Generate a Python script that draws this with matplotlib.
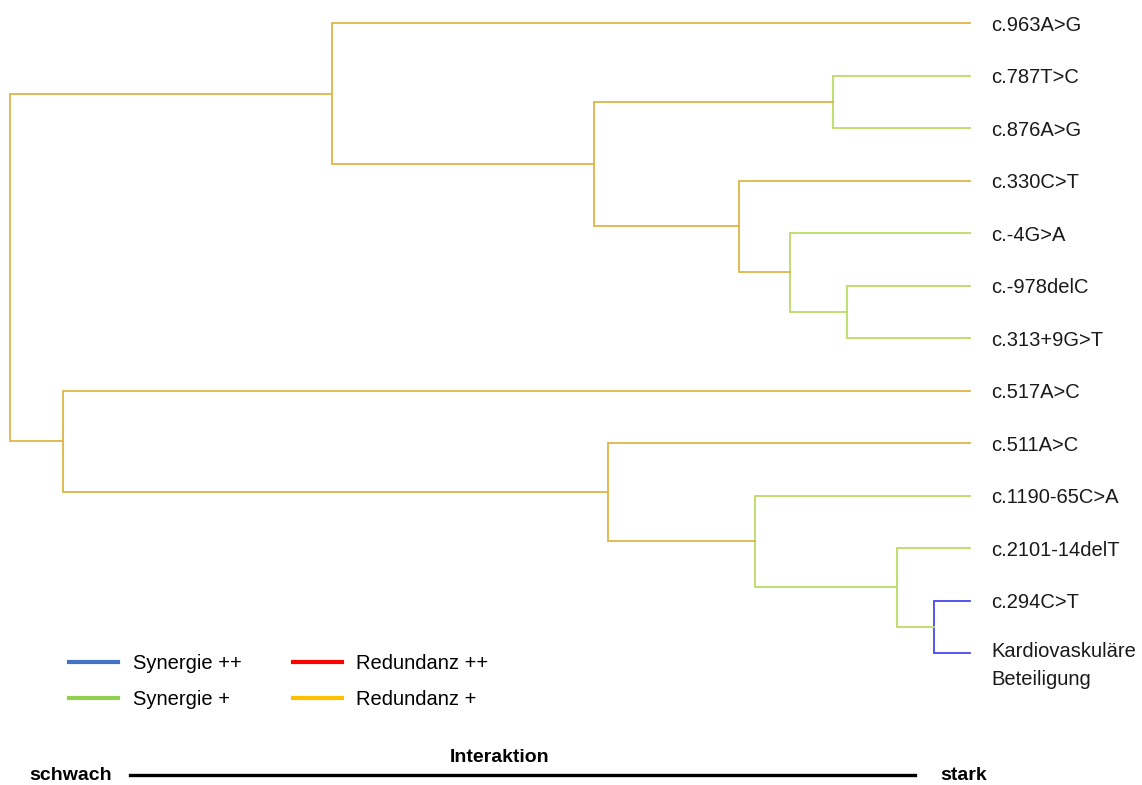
import matplotlib
matplotlib.use("Agg")
import matplotlib.pyplot as plt
from matplotlib.lines import Line2D

plt.rcParams['font.family'] = ['Liberation Sans', 'DejaVu Sans']

# leaves, top to bottom
leaves = ['c.963A>G', 'c.787T>C', 'c.876A>G', 'c.330C>T', 'c.-4G>A',
          'c.-978delC', 'c.313+9G>T', 'c.517A>C', 'c.511A>C',
          'c.1190-65C>A', 'c.2101-14delT', 'c.294C>T',
          'Kardiovaskuläre\nBeteiligung']

# merges: (child a, child b, height, type); new nodes numbered from len(leaves)
merge_a = [1, 5, 4, 3, 13, 0, 11, 10, 9, 8, 7, 18]
merge_b = [2, 6, 14, 15, 16, 17, 12, 19, 20, 21, 22, 23]
merge_h = [1.37, 1.23, 1.80, 2.31, 3.76, 6.38, 0.36, 0.73, 2.15, 3.62, 9.07, 9.60]
merge_t = ['syn', 'syn', 'syn', 'red', 'red', 'red', 'syn2', 'syn', 'syn', 'red', 'red', 'red']

tree_colors = {'syn2': '#4646F0', 'syn': '#BADB62', 'red2': '#FF0000', 'red': '#DFB547'}

legend_labels = ['Synergie ++', 'Synergie +', 'Redundanz ++', 'Redundanz +']
legend_colors = ['#4472C4', '#92D050', '#FF0000', '#FFC000']

fig = plt.figure(figsize=(11.42, 7.85), dpi=100)
ax = fig.add_axes([0, 0, 1, 1])

node_y = [23 + 52.5 * i for i in range(len(leaves))]
node_h = [0.0] * len(leaves)

for a, b, h, t in zip(merge_a, merge_b, merge_h, merge_t):
    ya, yb = node_y[a], node_y[b]
    ax.plot([node_h[a], h, h, node_h[b]], [ya, ya, yb, yb],
            color=tree_colors[t], lw=1.3, solid_joinstyle='miter')
    node_y.append((ya + yb) / 2)
    node_h.append(h)

for i, name in enumerate(leaves):
    if '\n' in name:
        ax.annotate(name, (0, node_y[i]), xytext=(15.5, 8), textcoords='offset points',
                    va='top', ha='left', fontsize=14.5, color='#1a1a1a', linespacing=1.6)
    else:
        ax.annotate(name, (0, node_y[i]), xytext=(15.5, -1.5), textcoords='offset points',
                    va='center', ha='left', fontsize=14.5, color='#1a1a1a')

ax.set_xlim(9.70, -1.72)
ax.set_ylim(785, 0)
ax.axis('off')

handles = [Line2D([], [], color=c, lw=3) for c in legend_colors]
fig.legend(handles, legend_labels, ncol=2, frameon=False, fontsize=14.5,
           loc='upper left', bbox_to_anchor=(0.0605, 0.167), borderpad=0,
           borderaxespad=0, handlelength=2.45, handletextpad=0.7,
           columnspacing=2.55, labelspacing=0.85)

# interaction scale at bottom
ax.plot([130 / 1142, 915 / 1142], [1 - 775 / 785] * 2, transform=ax.transAxes,
        color='black', lw=2.4, clip_on=False)
ax.text(71 / 1142, 1 - 775 / 785, 'schwach', transform=ax.transAxes,
        ha='center', va='center', fontsize=14, fontweight='bold')
ax.text(964 / 1142, 1 - 775 / 785, 'stark', transform=ax.transAxes,
        ha='center', va='center', fontsize=14, fontweight='bold')
ax.text(500 / 1142, 1 - 757 / 785, 'Interaktion', transform=ax.transAxes,
        ha='center', va='center', fontsize=14, fontweight='bold')

fig.savefig('out.png', dpi=100)
